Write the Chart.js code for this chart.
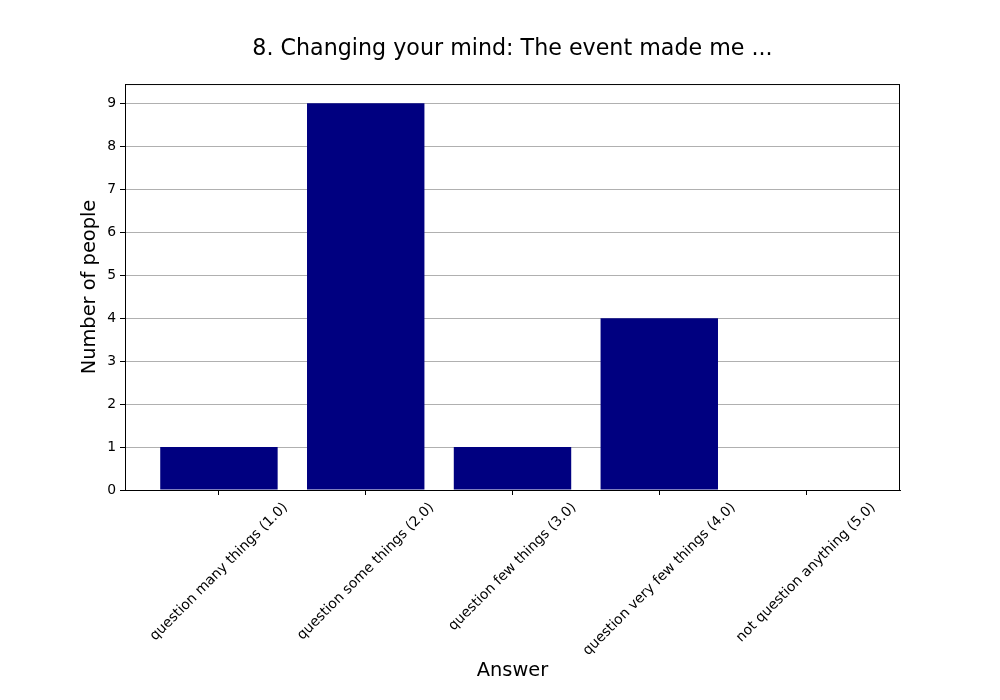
<!DOCTYPE html>
<html>
<head>
<meta charset="utf-8">
<script src="https://cdn.jsdelivr.net/npm/chart.js@4/dist/chart.umd.min.js"></script>
<style>
  html, body { margin: 0; padding: 0; background: #fff; }
  #wrap { width: 1000px; height: 700px; }
</style>
</head>
<body>
<div id="wrap"><canvas id="c" width="1000" height="700"></canvas></div>
<script>
const answers = ['question many things (1.0)', 'question some things (2.0)', 'question few things (3.0)',
                 'question very few things (4.0)', 'not question anything (5.0)'];
const counts = [1, 9, 1, 4, 0];
const yTicks = [0, 1, 2, 3, 4, 5, 6, 7, 8, 9];

const FONT = 'DejaVu Sans';
const tickPx = 13.9;

// matplotlib style: rotated labels centred under the tick, plus the full axes frame
const mplExtras = {
  id: 'mplExtras',
  afterDraw(chart) {
    const {ctx, chartArea: a, scales: {x}} = chart;
    ctx.save();
    ctx.strokeStyle = '#000';
    ctx.lineWidth = 1;
    ctx.strokeRect(a.left + 0.5, a.top + 0.5, a.right - a.left - 1, a.bottom - a.top);

    ctx.font = tickPx + 'px "' + FONT + '"';
    ctx.fillStyle = '#000';
    ctx.textAlign = 'center';
    ctx.textBaseline = 'middle';
    const y0 = a.bottom + 9.7;
    const h = tickPx * 1.17;
    answers.forEach((lbl, i) => {
      const w = ctx.measureText(lbl).width;
      const px = x.getPixelForValue(i);
      ctx.save();
      ctx.translate(px, y0 + (w + h) / (2 * Math.SQRT2));
      ctx.rotate(-Math.PI / 4);
      ctx.fillText(lbl, 0, 0);
      ctx.restore();
    });
    ctx.restore();
  }
};

new Chart(document.getElementById('c'), {
  type: 'bar',
  plugins: [mplExtras],
  data: {
    datasets: [{
      data: counts.map((v, i) => ({x: i, y: v})),
      backgroundColor: '#000080',
      borderWidth: 0,
      barPercentage: 0.8,
      categoryPercentage: 1.0
    }]
  },
  options: {
    responsive: false,
    animation: false,
    layout: {padding: {left: 0, right: 100, top: 0, bottom: 0}},
    plugins: {
      legend: {display: false},
      tooltip: {enabled: false},
      title: {
        display: true,
        fullSize: false,
        text: '8. Changing your mind: The event made me ...',
        color: '#000',
        font: {family: FONT, size: 22.2, weight: 'normal'},
        padding: {top: 36, bottom: 21.4}
      }
    },
    scales: {
      x: {
        type: 'linear',
        min: -0.64, max: 4.64,
        offset: false,
        afterBuildTicks: s => { s.ticks = answers.map((_, i) => ({value: i})); },
        afterFit: s => { s.height = 210; },
        ticks: {callback: () => ''},
        grid: {offset: false, drawOnChartArea: false, drawTicks: true, tickLength: 5, tickColor: '#000'},
        border: {display: true, color: '#000', width: 1},
        title: {
          display: true, text: 'Answer', color: '#000',
          font: {family: FONT, size: 19.4}, padding: {top: 0, bottom: 17.4}
        }
      },
      y: {
        min: 0, max: 9.45,
        afterBuildTicks: s => { s.ticks = yTicks.map(v => ({value: v})); },
        afterFit: s => { s.width = 125; },
        ticks: {color: '#000', font: {family: FONT, size: tickPx}, padding: 4},
        grid: {color: '#b0b0b0', lineWidth: 1, tickLength: 5, tickColor: '#000'},
        border: {display: true, color: '#000', width: 1},
        title: {
          display: true, text: 'Number of people', color: '#000',
          font: {family: FONT, size: 19.4}, padding: {top: 78.3, bottom: 0}
        }
      }
    }
  }
});
</script>
</body>
</html>
